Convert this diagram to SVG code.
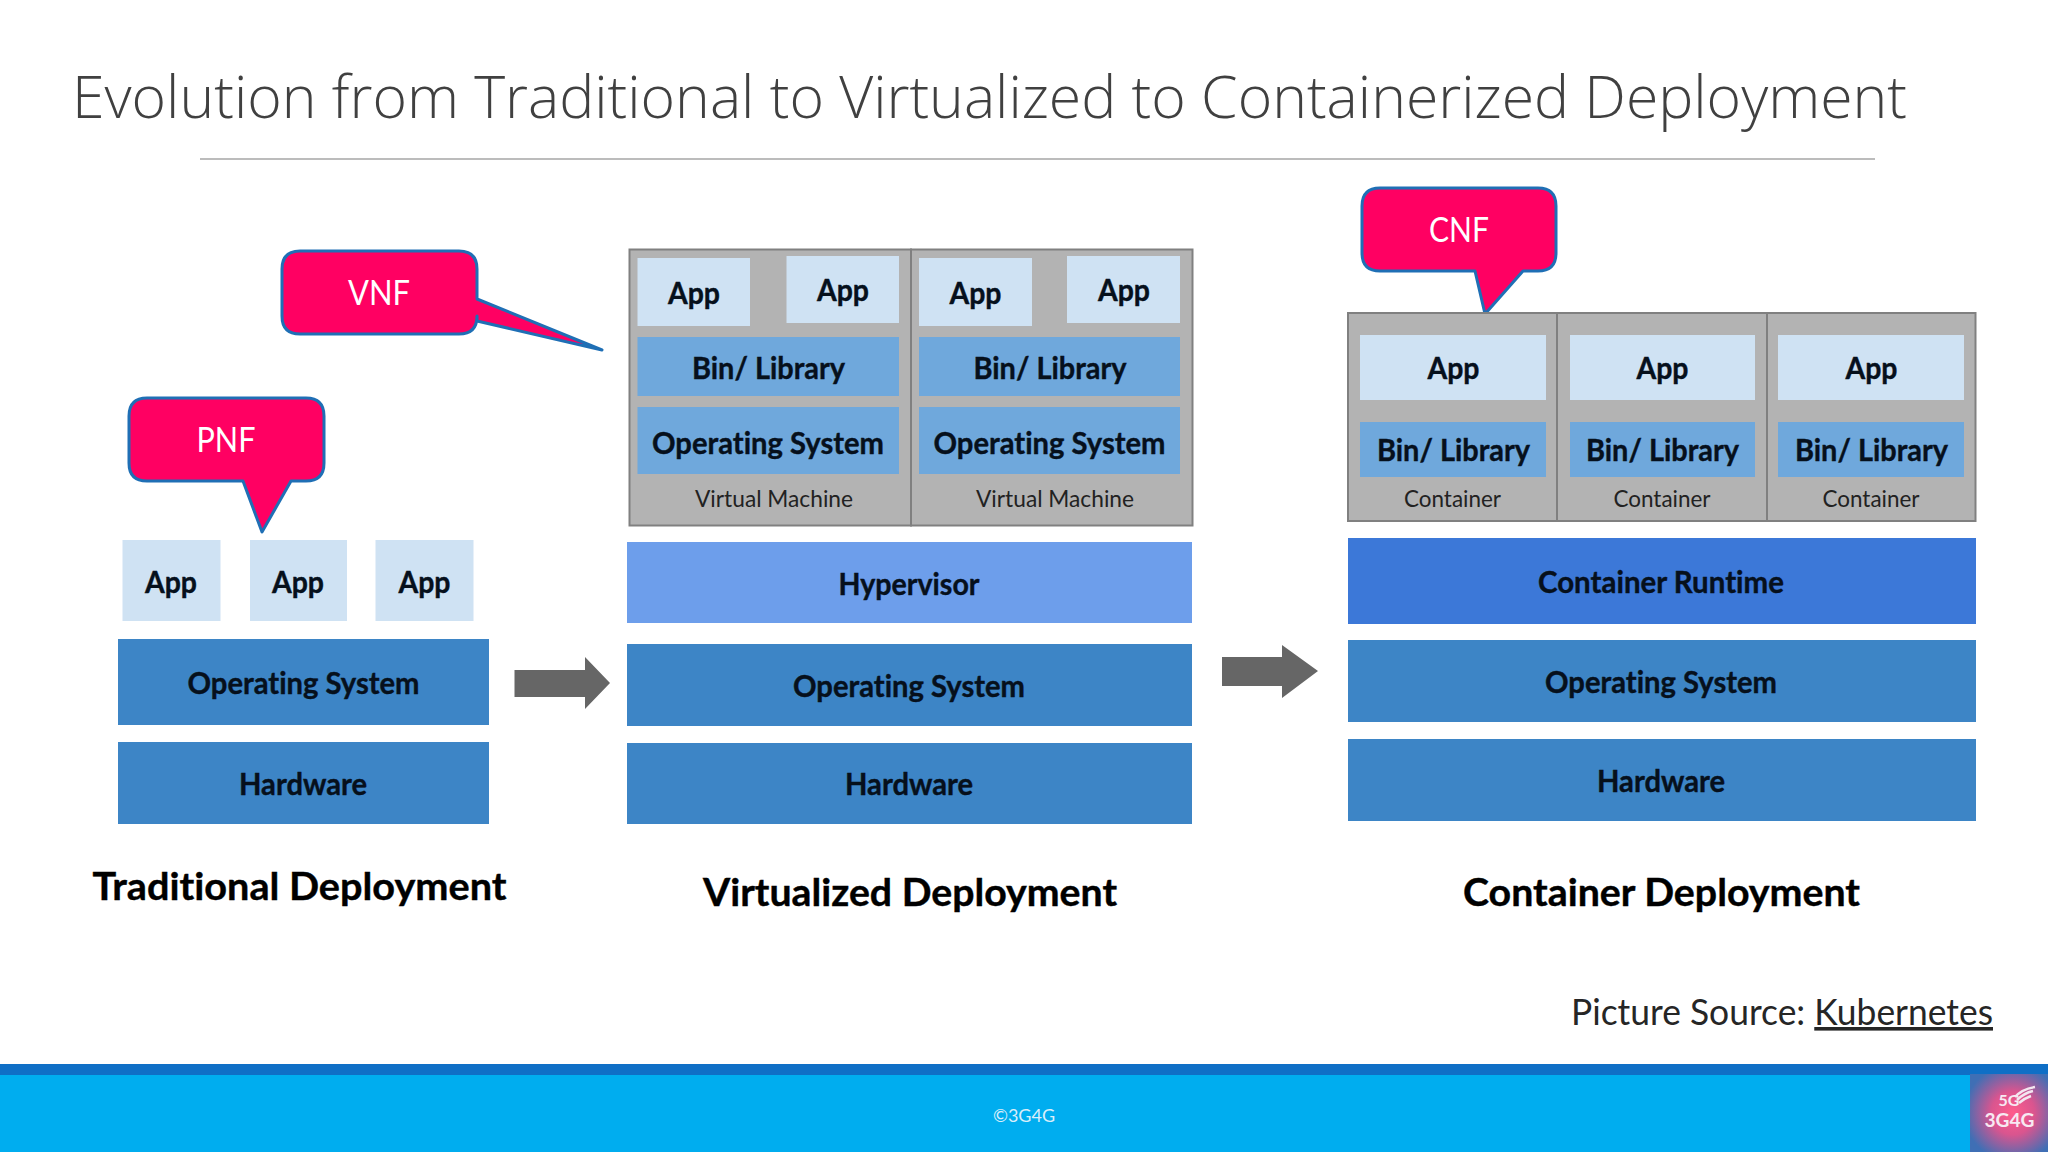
<svg xmlns="http://www.w3.org/2000/svg" width="2048" height="1152" viewBox="0 0 2048 1152">
<style>
text{font-family:Lato,"Open Sans","Liberation Sans",sans-serif;text-anchor:middle;font-variant-ligatures:none}
.b{font-weight:700;fill:#06101c;font-size:30px;stroke:#06101c;stroke-width:.4}
.h{font-weight:700;fill:#000;font-size:38px;stroke:#000;stroke-width:.4}
.s{fill:#222;font-size:23px}
.c{fill:#fff;font-size:35px}
.call{fill:#ff0062;stroke:#1f6fb5;stroke-width:3;stroke-linejoin:round}
.app{fill:#cfe2f3}
.lib{fill:#6fa8dc}
.blue{fill:#3d85c6}
.box{fill:#b3b3b3;stroke:#808080;stroke-width:2}
.arrow{fill:#666}
</style>
<defs>
<radialGradient id="logo" cx="55%" cy="50%" r="62%"><stop offset="0" stop-color="#ff5c8c"/><stop offset="0.45" stop-color="#d9558f"/><stop offset="1" stop-color="#3f6fb5"/></radialGradient>
</defs>
<rect width="2048" height="1152" fill="#fff"/>
<g id="title">
<text x="989.5" y="118" style="font-family:'Open Sans',sans-serif;font-weight:300;fill:#404040;font-size:58px" textLength="1835" lengthAdjust="spacingAndGlyphs">Evolution from Traditional to Virtualized to Containerized Deployment</text>
<line x1="200" y1="159" x2="1875" y2="159" stroke="#a6a6a6" stroke-width="1.5"/>
</g>
<g id="pnf">
<path class="call" d="M147 398H306Q324 398 324 416V463Q324 481 306 481H291L262 532L243 481H147Q129 481 129 463V416Q129 398 147 398Z"/>
<text class="c" x="226" y="452" textLength="59" lengthAdjust="spacingAndGlyphs">PNF</text>
</g>
<g id="vnf">
<path class="call" d="M300 251H459Q477 251 477 269V299L602 350L477 321V316Q477 334 459 334H300Q282 334 282 316V269Q282 251 300 251Z"/>
<text class="c" x="379" y="305" textLength="62" lengthAdjust="spacingAndGlyphs">VNF</text>
</g>
<g id="cnf">
<path class="call" d="M1380 188H1538Q1556 188 1556 206V253Q1556 271 1538 271H1523L1485 314L1475 271H1380Q1362 271 1362 253V206Q1362 188 1380 188Z"/>
<text class="c" x="1459" y="242" textLength="60" lengthAdjust="spacingAndGlyphs">CNF</text>
</g>

<g id="traditional">
<g id="t-app1"><rect class="app" x="122.500" y="540" width="98" height="81"/><text class="b" x="171" y="593" textLength="52" lengthAdjust="spacingAndGlyphs">App</text></g>
<g id="t-app2"><rect class="app" x="250" y="540" width="97" height="81"/><text class="b" x="298" y="593" textLength="52" lengthAdjust="spacingAndGlyphs">App</text></g>
<g id="t-app3"><rect class="app" x="375.500" y="540" width="98" height="81"/><text class="b" x="424.500" y="593" textLength="52" lengthAdjust="spacingAndGlyphs">App</text></g>
<g id="t-os"><rect class="blue" x="118" y="639" width="371" height="86"/><text class="b" x="303.500" y="694" textLength="232" lengthAdjust="spacingAndGlyphs">Operating System</text></g>
<g id="t-hw"><rect class="blue" x="118" y="742" width="371" height="82"/><text class="b" x="303" y="795" textLength="128" lengthAdjust="spacingAndGlyphs">Hardware</text></g>
<text class="h" x="299.500" y="900" textLength="414" lengthAdjust="spacingAndGlyphs">Traditional Deployment</text>
</g>

<g id="virtualized">
<g id="vm1">
<rect class="box" x="629.500" y="249.500" width="281.500" height="276"/>
<rect class="app" x="637.500" y="258" width="112.500" height="68"/><text class="b" x="694" y="304" textLength="52" lengthAdjust="spacingAndGlyphs">App</text>
<rect class="app" x="786.500" y="256" width="112.500" height="67"/><text class="b" x="843" y="301" textLength="52" lengthAdjust="spacingAndGlyphs">App</text>
<rect class="lib" x="637.500" y="337" width="261.500" height="59"/><text class="b" x="768.500" y="379" textLength="153" lengthAdjust="spacingAndGlyphs">Bin/ Library</text>
<rect class="lib" x="637.500" y="407" width="261.500" height="67"/><text class="b" x="768" y="454" textLength="232" lengthAdjust="spacingAndGlyphs">Operating System</text>
<text class="s" x="774" y="507" textLength="158" lengthAdjust="spacingAndGlyphs">Virtual Machine</text>
</g>
<g id="vm2">
<rect class="box" x="911" y="249.500" width="281.500" height="276"/>
<rect class="app" x="919" y="258" width="113" height="68"/><text class="b" x="975.500" y="304" textLength="52" lengthAdjust="spacingAndGlyphs">App</text>
<rect class="app" x="1067" y="256" width="113" height="67"/><text class="b" x="1124" y="301" textLength="52" lengthAdjust="spacingAndGlyphs">App</text>
<rect class="lib" x="919" y="337" width="261" height="59"/><text class="b" x="1050" y="379" textLength="153" lengthAdjust="spacingAndGlyphs">Bin/ Library</text>
<rect class="lib" x="919" y="407" width="261" height="67"/><text class="b" x="1049.500" y="454" textLength="232" lengthAdjust="spacingAndGlyphs">Operating System</text>
<text class="s" x="1055" y="507" textLength="158" lengthAdjust="spacingAndGlyphs">Virtual Machine</text>
</g>
<g id="v-hyp"><rect x="627" y="542" width="565" height="81" fill="#6d9eeb"/><text class="b" x="909" y="595" textLength="141" lengthAdjust="spacingAndGlyphs">Hypervisor</text></g>
<g id="v-os"><rect class="blue" x="627" y="644" width="565" height="82"/><text class="b" x="909" y="697" textLength="232" lengthAdjust="spacingAndGlyphs">Operating System</text></g>
<g id="v-hw"><rect class="blue" x="627" y="743" width="565" height="81"/><text class="b" x="909" y="795" textLength="128" lengthAdjust="spacingAndGlyphs">Hardware</text></g>
<text class="h" x="910" y="906" textLength="414" lengthAdjust="spacingAndGlyphs">Virtualized Deployment</text>
</g>

<g id="container">
<g id="c1">
<rect class="box" x="1348" y="313" width="209" height="208"/>
<rect class="app" x="1360" y="335" width="186" height="65"/><text class="b" x="1453.500" y="379" textLength="52" lengthAdjust="spacingAndGlyphs">App</text>
<rect class="lib" x="1360" y="422" width="186" height="55"/><text class="b" x="1453.500" y="461" textLength="153" lengthAdjust="spacingAndGlyphs">Bin/ Library</text>
<text class="s" x="1452.500" y="507" textLength="97" lengthAdjust="spacingAndGlyphs">Container</text>
</g>
<g id="c2">
<rect class="box" x="1557" y="313" width="210" height="208"/>
<rect class="app" x="1570" y="335" width="185" height="65"/><text class="b" x="1662.500" y="379" textLength="52" lengthAdjust="spacingAndGlyphs">App</text>
<rect class="lib" x="1570" y="422" width="185" height="55"/><text class="b" x="1662.500" y="461" textLength="153" lengthAdjust="spacingAndGlyphs">Bin/ Library</text>
<text class="s" x="1662" y="507" textLength="97" lengthAdjust="spacingAndGlyphs">Container</text>
</g>
<g id="c3">
<rect class="box" x="1767" y="313" width="208.500" height="208"/>
<rect class="app" x="1778" y="335" width="186" height="65"/><text class="b" x="1871.500" y="379" textLength="52" lengthAdjust="spacingAndGlyphs">App</text>
<rect class="lib" x="1778" y="422" width="186" height="55"/><text class="b" x="1871.500" y="461" textLength="153" lengthAdjust="spacingAndGlyphs">Bin/ Library</text>
<text class="s" x="1871" y="507" textLength="97" lengthAdjust="spacingAndGlyphs">Container</text>
</g>
<g id="c-run"><rect x="1348" y="538" width="628" height="86" fill="#3c78d8"/><text class="b" x="1661" y="593" textLength="246" lengthAdjust="spacingAndGlyphs">Container Runtime</text></g>
<g id="c-os"><rect class="blue" x="1348" y="640" width="628" height="82"/><text class="b" x="1661" y="693" textLength="232" lengthAdjust="spacingAndGlyphs">Operating System</text></g>
<g id="c-hw"><rect class="blue" x="1348" y="739" width="628" height="82"/><text class="b" x="1661" y="792" textLength="128" lengthAdjust="spacingAndGlyphs">Hardware</text></g>
<text class="h" x="1661.500" y="906" textLength="397" lengthAdjust="spacingAndGlyphs">Container Deployment</text>
</g>

<g id="connectors">
<path class="arrow" d="M514.500 670H585V657L610 683L585 709V697H514.500Z"/>
<path class="arrow" d="M1222 657H1282V645L1318 671L1282 698V686H1222Z"/>
</g>

<g id="source">
<text x="1782" y="1025" style="fill:#262626;font-size:36px" textLength="422" lengthAdjust="spacingAndGlyphs">Picture Source: <tspan text-decoration="underline">Kubernetes</tspan></text>
</g>

<g id="footer">
<rect y="1064" width="2048" height="11" fill="#0f6fc6"/>
<rect y="1075" width="2048" height="77" fill="#00adef"/>
<text x="1024" y="1122" style="fill:#d9eefa;font-size:18px">©3G4G</text>
<rect x="1970" y="1074" width="78" height="78" fill="url(#logo)"/>
<path d="M2015 1097Q2022 1089 2035 1087M2017 1100Q2024 1093 2033 1091M2019 1103Q2025 1098 2031 1096" fill="none" stroke="#f3e6f0" stroke-width="2.500"/>
<text x="2009" y="1106" style="font-weight:700;fill:#f7e9f2;font-size:16px">5G</text>
<text x="2009.500" y="1127" style="fill:#f7e9f2;font-size:18px;font-weight:700" textLength="50" lengthAdjust="spacingAndGlyphs">3G4G</text>
</g>
</svg>
